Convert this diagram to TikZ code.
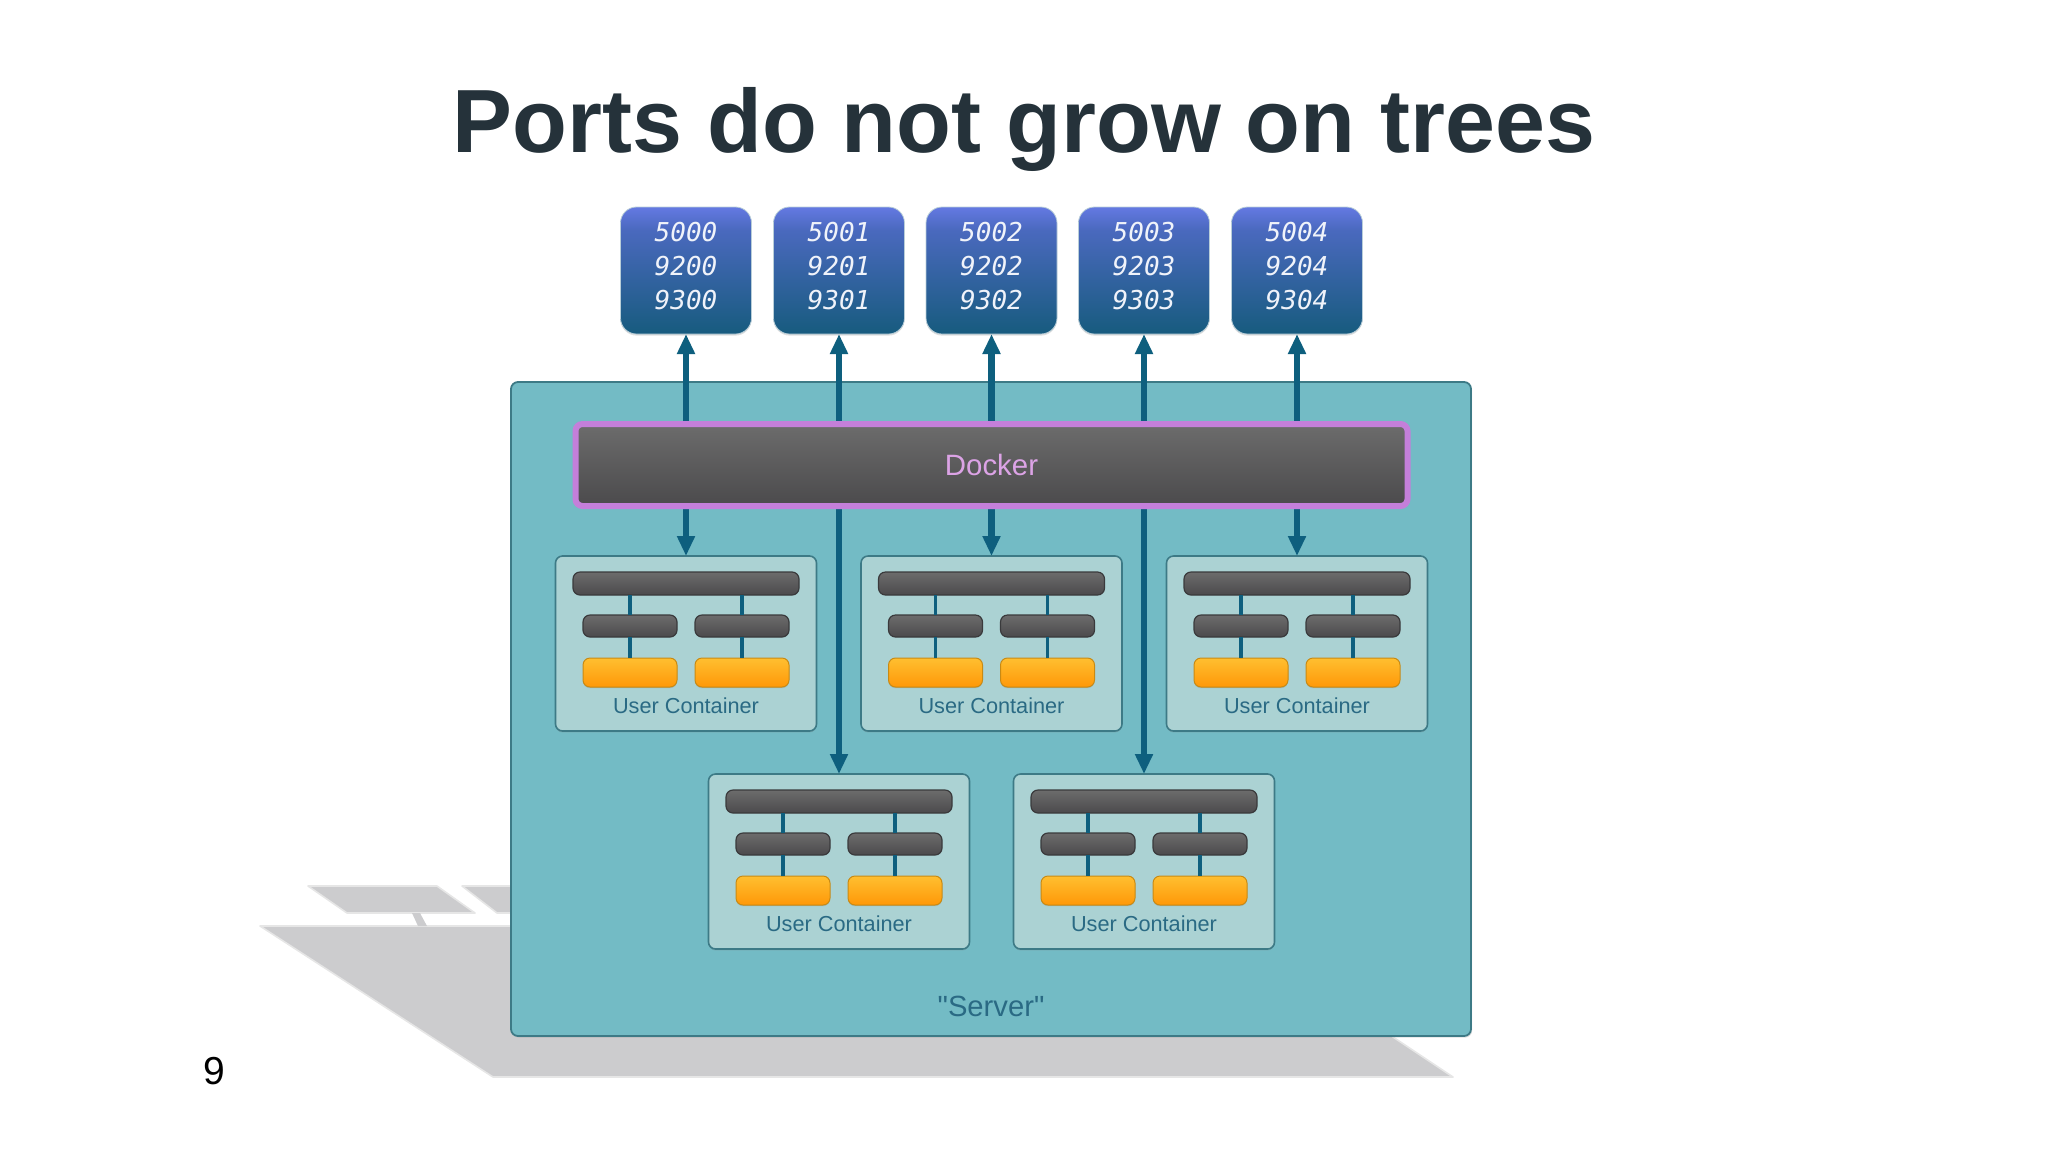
\documentclass[tikz,border=0pt]{standalone}
\usepackage{fontspec}
\setmainfont{Liberation Sans}
\setmonofont{DejaVu Sans Mono}
\newfontfamily\plainsans{Liberation Sans}
\usetikzlibrary{arrows.meta,shadows}
\pgfdeclarelayer{front}
\pgfsetlayers{main,front}
\definecolor{titlec}{HTML}{25323A}
\definecolor{shadowc}{HTML}{CCCCCE}
\definecolor{serverf}{HTML}{73BBC5}
\definecolor{serverd}{HTML}{3D7A86}
\definecolor{contf}{HTML}{ABD2D3}
\definecolor{arrowc}{HTML}{0E5F7E}
\definecolor{labelc}{HTML}{2A6A84}
\definecolor{dockb}{HTML}{C47FDA}
\definecolor{dockt}{HTML}{DCA3E6}
\definecolor{pa}{HTML}{6479E2}
\definecolor{pb}{HTML}{4A69BE}
\definecolor{pc}{HTML}{175B7E}
\definecolor{HTMLgraya}{HTML}{6C6C6C}
\definecolor{HTMLgrayb}{HTML}{4B4A4C}
\definecolor{HTMLgrayc}{HTML}{3A3A3C}
\definecolor{orangea}{HTML}{FFBF30}
\definecolor{orangec}{HTML}{FF9808}
\definecolor{orangeb}{HTML}{C88A14}
\pgfdeclareverticalshading{portshade}{100bp}{color(0bp)=(pc); color(25bp)=(pc); color(66bp)=(pb); color(75bp)=(pa); color(100bp)=(pa)}
\tikzset{
  box/.style={draw,inner sep=0pt,outer sep=0pt,align=center},
  port/.style={box,draw=white!70!pc,line width=.4pt,shading=portshade,rounded corners=8pt,
    minimum width=65.5pt,minimum height=63.5pt,
    drop shadow={shadow xshift=0pt,shadow yshift=-.8pt,opacity=.25}},
  portl/.style={inner sep=0pt,align=center,text=white!92!pb,
    font=\fontsize{13}{17}\selectfont\ttfamily\itshape},
  server/.style={box,draw=serverd,line width=.9pt,fill=serverf,rounded corners=3.5pt,
    minimum width=480pt,minimum height=327pt,
    drop shadow={shadow xshift=.6pt,shadow yshift=-.8pt,opacity=.25}},
  docker/.style={box,draw=dockb,line width=3pt,top color=HTMLgraya,bottom color=HTMLgrayb,
    rounded corners=3.5pt,minimum width=416pt,minimum height=41pt,text=dockt,
    font=\fontsize{14.7}{17}\selectfont},
  cont/.style={box,draw=serverd,line width=.8pt,fill=contf,rounded corners=3.5pt,
    minimum width=130.5pt,minimum height=87.5pt,
    drop shadow={shadow xshift=0pt,shadow yshift=-.7pt,opacity=.3}},
  bar/.style={box,draw=HTMLgrayc,line width=.6pt,top color=HTMLgraya,bottom color=HTMLgrayb,rounded corners=3.5pt},
  orange/.style={box,draw=orangeb,line width=.5pt,top color=orangea,bottom color=orangec,rounded corners=3.5pt,
    minimum width=47pt,minimum height=14.5pt,
    drop shadow={shadow xshift=0pt,shadow yshift=-.6pt,opacity=.3}},
  arr/.style={draw=arrowc,line width=3.3pt,-{Triangle[length=10pt,width=8.5pt]}},
  tie/.style={draw=arrowc,line width=1.6pt},
  shade poly/.style={fill=shadowc,draw=shadowc!50!white,line width=.8pt,line join=round},
  clabel/.style={inner sep=0pt,text=labelc,font=\fontsize{10.85}{13}\selectfont},
}
\newcommand{\portbox}[5]{%
  \node[port] (#1) at (#2,270.5) {};
  \node[portl] (#1l) at (#2,266) {#3\\#4\\#5};
}
\newcommand{\usercontainer}[3]{%
  \node[cont] (#1) at (#2,#3) {};
  \node[bar,minimum width=113pt,minimum height=11.5pt] (#1t) at (#2,#3-60) {};
  \node[bar,minimum width=47pt,minimum height=11pt] (#1a) at (#2-56,#3-17.5) {};
  \node[bar,minimum width=47pt,minimum height=11pt] (#1b) at (#2+56,#3-17.5) {};
  \node[orange] (#1x) at (#2-56,#3+29) {};
  \node[orange] (#1y) at (#2+56,#3+29) {};
  \node[clabel] (#1l) at (#2,#3+62.5) {User Container};
  \draw[tie] (#1a.north |- #1t.south) -- (#1a.north);
  \draw[tie] (#1b.north |- #1t.south) -- (#1b.north);
  \draw[tie] (#1a.south) -- (#1x.north);
  \draw[tie] (#1b.south) -- (#1y.north);
}
\begin{document}
\begin{tikzpicture}[x=.5pt,y=-.5pt]
\useasboundingbox (0,0) rectangle (2048,1152);
% floor shadows
\draw[shade poly] (260,926) -- (1300,926) -- (1393,1037) -- (1453,1077) -- (493,1077) -- cycle;
\draw[shade poly] (308,886) -- (437,886) -- (475,913) -- (347,913) -- cycle;
\draw[shade poly] (462,886) -- (600,886) -- (600,913) -- (497,913) -- cycle;
\fill[shadowc] (412,913) -- (420,913) -- (427,926) -- (418,926) -- cycle;
% title and page number
\node[anchor=base,inner sep=0pt,text=titlec,font=\fontsize{44.9}{50}\selectfont\bfseries] (title) at (1024,152) {Ports do not grow on trees};
\node[anchor=base,inner sep=0pt,text=black,font=\fontsize{19.5}{24}\selectfont] (page) at (214,1084) {9};
% server
\node[server] (server) at (991,709) {};
\node[inner sep=0pt,text=labelc,font=\fontsize{14.6}{17}\selectfont\plainsans] (serverl) at (991,1006) {"Server"};
% ports
\portbox{p1}{686}{5000}{9200}{9300}
\portbox{p2}{839}{5001}{9201}{9301}
\portbox{p3}{991.5}{5002}{9202}{9302}
\portbox{p4}{1144}{5003}{9203}{9303}
\portbox{p5}{1297}{5004}{9204}{9304}
% containers
\usercontainer{c}{686}{643.5}
\usercontainer{d}{991.5}{643.5}
\usercontainer{e}{1297}{643.5}
\usercontainer{f}{839}{861.5}
\usercontainer{g}{1144}{861.5}
% docker (on the front layer, so that the connectors run under its border)
\begin{pgfonlayer}{front}
\node[docker] (docker) at (991.5,465) {Docker};
\end{pgfonlayer}
% connectors
\foreach \n in {p1,p2,p3,p4,p5} \draw[arr] (docker.north -| \n.south) -- (\n.south);
\foreach \n in {c,d,e,f,g} \draw[arr] (docker.south -| \n.north) -- (\n.north);
\end{tikzpicture}
\end{document}
